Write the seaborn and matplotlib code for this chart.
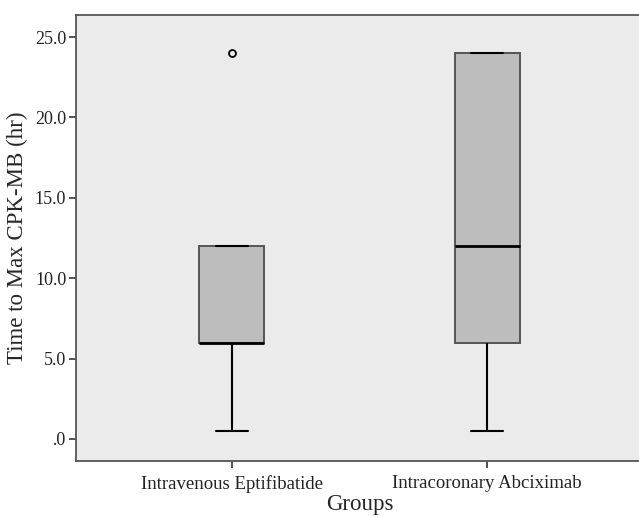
import matplotlib
matplotlib.use("Agg")
import matplotlib.pyplot as plt
import seaborn as sns
import pandas as pd
from matplotlib.ticker import FuncFormatter

groups = ["Intravenous Eptifibatide", "Intracoronary Abciximab"]
eptifibatide = [0.5, 6, 6, 6, 6, 12, 12, 12, 24]
abciximab = [0.5, 6, 6, 12, 24, 24, 24]
y_ticks = [0, 5, 10, 15, 20, 25]

df = pd.DataFrame({
    "Groups": [groups[0]] * len(eptifibatide) + [groups[1]] * len(abciximab),
    "Time": eptifibatide + abciximab,
})

sns.set_style("white")
plt.rcParams["font.family"] = ["Liberation Serif", "DejaVu Serif"]

fig = plt.figure(figsize=(6.39, 5.17), dpi=100)
ax = fig.add_axes([76 / 639, 56 / 517, 567 / 639, 446 / 517])
ax.set_facecolor("#ebebeb")

sns.boxplot(
    data=df, x="Groups", y="Time", order=groups, ax=ax,
    width=0.255, color="#bdbdbd", saturation=1, whis=1.5,
    boxprops=dict(facecolor="#bdbdbd", edgecolor="#555555", linewidth=1.4),
    whiskerprops=dict(color="black", linewidth=1.5),
    capprops=dict(color="black", linewidth=1.5),
    medianprops=dict(color="black", linewidth=2.0),
    flierprops=dict(marker="o", markersize=5, markerfacecolor="none",
                    markeredgecolor="black", markeredgewidth=1.3),
)

ax.set_xlim(-0.61, 1.61)
ax.set_ylim(-1.37, 26.37)
ax.set_yticks(y_ticks)
ax.yaxis.set_major_formatter(FuncFormatter(lambda v, p: f"{v:.1f}".lstrip("0")))

for s in ax.spines.values():
    s.set_color("#555555")
    s.set_linewidth(1.3)

ax.tick_params(axis="both", direction="out", length=5, width=1.2,
               color="#333333", labelcolor="#222222",
               left=True, bottom=True, pad=2)
ax.tick_params(axis="y", labelsize=13)
ax.tick_params(axis="x", labelsize=13.5, pad=5)

# the original crops "Groups" at the bottom edge; keep it just inside
ax.set_xlabel("Groups", fontsize=16.5, labelpad=1)
ax.set_ylabel("Time to Max CPK-MB (hr)", fontsize=16.5, labelpad=5)

fig.savefig("out.png", dpi=100)
